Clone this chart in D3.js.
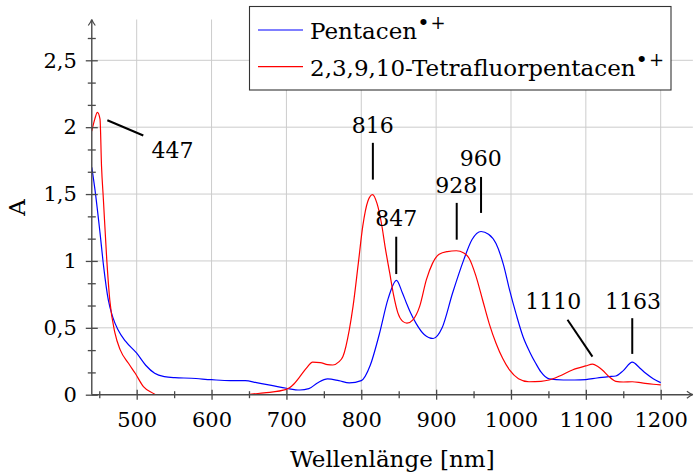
<!DOCTYPE html>
<html><head><meta charset="utf-8">
<script src="https://cdn.jsdelivr.net/npm/d3@7"></script>
<style>
html,body{margin:0;padding:0;background:#fff;}
svg{display:block;font-family:"DejaVu Serif",serif;}
</style></head>
<body><svg id="c" width="695" height="472"></svg>
<script>
// ---------- data ----------
const pentacenWL = [440,445,451,456,462,468,475,485,500,512,524,537,551,573,600,625,645,660,680,700,718,730,742,755,770,784,800,812,824,836,847,855,860,866,873,884,896,908,922,937,948,960,970,980,990,998,1007,1016,1025,1033,1040,1051,1070,1085,1100,1115,1131,1140,1150,1162,1172,1180,1190,1200];
const pentacenA  = [1.70,1.50,1.21,0.95,0.71,0.58,0.485,0.40,0.31,0.22,0.16,0.135,0.127,0.123,0.112,0.105,0.105,0.09,0.07,0.048,0.035,0.045,0.09,0.118,0.105,0.088,0.105,0.22,0.45,0.72,0.855,0.76,0.69,0.61,0.535,0.45,0.42,0.50,0.76,1.01,1.16,1.22,1.20,1.13,0.97,0.785,0.60,0.435,0.32,0.235,0.17,0.118,0.11,0.11,0.113,0.125,0.135,0.14,0.18,0.243,0.20,0.16,0.12,0.09];

const tfpWL = [440,444,447.5,451,453,455.5,460,464,471,478,489,498,509,524,535,560,600,630,649,670,700,710,718,727,735,745,755,762,770,775.5,784,789,796,802,809,815,821,827,832,838,843,849,855,861,869,878,887,895,904,915,927,937,944,953,962,971,980,989,998,1010,1024,1040,1051,1065,1082,1100,1109,1116,1122,1131,1140,1150,1162,1175,1190,1200];
const tfpA  = [1.97,2.06,2.11,2.06,1.71,1.46,1.01,0.71,0.46,0.335,0.235,0.16,0.06,0.003,-0.05,-0.1,-0.1,-0.05,0.0,0.013,0.04,0.08,0.135,0.2,0.243,0.24,0.225,0.222,0.245,0.285,0.485,0.66,0.98,1.26,1.45,1.496,1.43,1.28,1.1,0.91,0.75,0.61,0.55,0.535,0.56,0.66,0.86,0.98,1.05,1.07,1.076,1.06,1.02,0.89,0.71,0.53,0.385,0.27,0.185,0.12,0.097,0.10,0.11,0.14,0.185,0.215,0.228,0.21,0.185,0.135,0.10,0.095,0.097,0.088,0.078,0.073];

const xTicks = [500,600,700,800,900,1000,1100,1200];
const xMinorTicks = [450,550,650,750,850,950,1050,1150];
const yTicks = [0,0.5,1,1.5,2,2.5];
const yTickLabels = ["0","0,5","1","1,5","2","2,5"];
const yMinorTicks = [1/6,2/6,4/6,5/6,7/6,8/6,10/6,11/6,13/6,14/6,16/6];

const seriesNames = ["Pentacen","2,3,9,10-Tetrafluorpentacen"];
const seriesColors = ["#0000ff","#ff0000"];

// annotations: label, text anchor (wl, A), line from/to (wl, A)
const annLabels = ["447","816","847","928","960","1110","1163"];
const annText = [[547.7,1.773],[815.5,1.96],[846.7,1.258],[927,1.509],[959.5,1.708],[1056.4,0.64],[1163,0.64]];
const annLine = [[[460.8,2.052],[508.8,1.938]],[[815.5,1.883],[815.5,1.608]],[[846.7,1.181],[846.7,0.902]],[[927.5,1.434],[927.5,1.159]],[[960,1.628],[960,1.359]],[[1075.5,0.56],[1108.8,0.285]],[[1162,0.572],[1162,0.305]]];

// ---------- scales ----------
const svg = d3.select("#c");
const x = d3.scaleLinear().domain([500,1200]).range([136.7,660.7]);
const y = d3.scaleLinear().domain([0,2.5]).range([394.7,60.3]);
const xMin = 440, xMax = 1243, yMax = 2.805;
const X0 = x(xMin), X1 = x(xMax), Y0 = y(0), Y1 = y(yMax);
const axisColor = "#4a4a4a";

// grid
const grid = svg.append("g").attr("stroke","#cccccc").attr("stroke-width",1);
grid.selectAll(".gx").data(xTicks).join("line")
  .attr("x1",d=>x(d)).attr("x2",d=>x(d)).attr("y1",Y1).attr("y2",Y0);
grid.selectAll(".gy").data(yTicks.filter(d=>d>0)).join("line")
  .attr("x1",X0).attr("x2",X1).attr("y1",d=>y(d)).attr("y2",d=>y(d));

// clip
svg.append("clipPath").attr("id","clip").append("rect")
  .attr("x",X0).attr("y",Y1).attr("width",X1-X0).attr("height",Y0-Y1);

// curves
const line = d3.line().x(d=>x(d[0])).y(d=>y(d[1])).curve(d3.curveMonotoneX);
const series = [d3.zip(pentacenWL,pentacenA), d3.zip(tfpWL,tfpA)];
svg.append("g").attr("clip-path","url(#clip)").selectAll("path").data(series).join("path")
  .attr("d",line).attr("fill","none")
  .attr("stroke",(d,i)=>seriesColors[i]).attr("stroke-width",1.2);

// axes
const xAxis = d3.axisBottom(x).tickValues(xTicks).tickFormat(d3.format("d")).tickSize(5).tickPadding(12);
const gx = svg.append("g").attr("transform",`translate(0,${Y0})`).call(xAxis);
gx.select(".domain").remove();
gx.selectAll(".tick line").attr("y1",-5).attr("y2",5).attr("stroke",axisColor).attr("stroke-width",1.3);
gx.selectAll(".tick text").attr("font-family","DejaVu Serif").attr("font-size",21).attr("fill","#000");
const gxm = svg.append("g").attr("transform",`translate(0,${Y0})`)
  .call(d3.axisBottom(x).tickValues(xMinorTicks).tickFormat(""));
gxm.select(".domain").remove();
gxm.selectAll(".tick line").attr("y1",-3.5).attr("y2",3.5).attr("stroke",axisColor).attr("stroke-width",1.3);

const yAxis = d3.axisLeft(y).tickValues(yTicks).tickFormat((d,i)=>yTickLabels[i]).tickSize(6).tickPadding(9);
const gy = svg.append("g").attr("transform",`translate(${X0},0)`).call(yAxis);
gy.select(".domain").remove();
gy.selectAll(".tick line").attr("x1",-6).attr("x2",6).attr("stroke",axisColor).attr("stroke-width",1.3);
gy.selectAll(".tick text").attr("font-family","DejaVu Serif").attr("font-size",21).attr("fill","#000");
const gym = svg.append("g").attr("transform",`translate(${X0},0)`)
  .call(d3.axisLeft(y).tickValues(yMinorTicks).tickFormat(""));
gym.select(".domain").remove();
gym.selectAll(".tick line").attr("x1",-4).attr("x2",4).attr("stroke",axisColor).attr("stroke-width",1.3);

// axis lines with arrows
const ax = svg.append("g").attr("stroke",axisColor).attr("stroke-width",1.4).attr("fill","none");
ax.append("line").attr("x1",X0).attr("x2",X1-1).attr("y1",Y0).attr("y2",Y0);
ax.append("line").attr("x1",X0).attr("x2",X0).attr("y1",Y0).attr("y2",Y1+1);
ax.append("path").attr("d",`M${X1-6},${Y0-3.5} Q${X1-2},${Y0-0.5} ${X1},${Y0} Q${X1-2},${Y0+0.5} ${X1-6},${Y0+3.5}`).attr("stroke-width",1.2);
ax.append("path").attr("d",`M${X0-3.5},${Y1+6} Q${X0-0.5},${Y1+2} ${X0},${Y1} Q${X0+0.5},${Y1+2} ${X0+3.5},${Y1+6}`).attr("stroke-width",1.2);

// axis labels
svg.append("text").attr("x",(X0+X1)/2).attr("y",466.5).attr("text-anchor","middle")
  .attr("font-size",23).text("Wellenlänge [nm]");
svg.append("text").attr("transform",`translate(25,207.5) rotate(-90)`).attr("text-anchor","middle")
  .attr("font-size",23).text("A");

// annotations
const ann = svg.append("g");
ann.selectAll("line").data(annLine).join("line")
  .attr("x1",d=>x(d[0][0])).attr("y1",d=>y(d[0][1]))
  .attr("x2",d=>x(d[1][0])).attr("y2",d=>y(d[1][1]))
  .attr("stroke","#000").attr("stroke-width",2);
ann.selectAll("text").data(annLabels).join("text")
  .attr("x",(d,i)=>x(annText[i][0])).attr("y",(d,i)=>y(annText[i][1]))
  .attr("text-anchor","middle").attr("font-size",22).text(d=>d);

// legend
const lg = svg.append("g");
lg.append("rect").attr("x",249.5).attr("y",6.5).attr("width",421.5).attr("height",83.5)
  .attr("fill","#fff").attr("stroke","#333").attr("stroke-width",1.1);
seriesNames.forEach((name,i)=>{
  const ly = 30 + i*36.7;
  lg.append("line").attr("x1",258).attr("x2",303).attr("y1",ly).attr("y2",ly)
    .attr("stroke",seriesColors[i]).attr("stroke-width",1.2);
  const t = lg.append("text").attr("x",310).attr("y",ly+9).attr("font-size",23);
  t.append("tspan").text(name);
  t.append("tspan").attr("dy",-9).attr("font-size",21).text("•");
  t.append("tspan").attr("dy",-1).attr("dx",1).attr("font-size",18).text("+");
});
</script></body></html>
